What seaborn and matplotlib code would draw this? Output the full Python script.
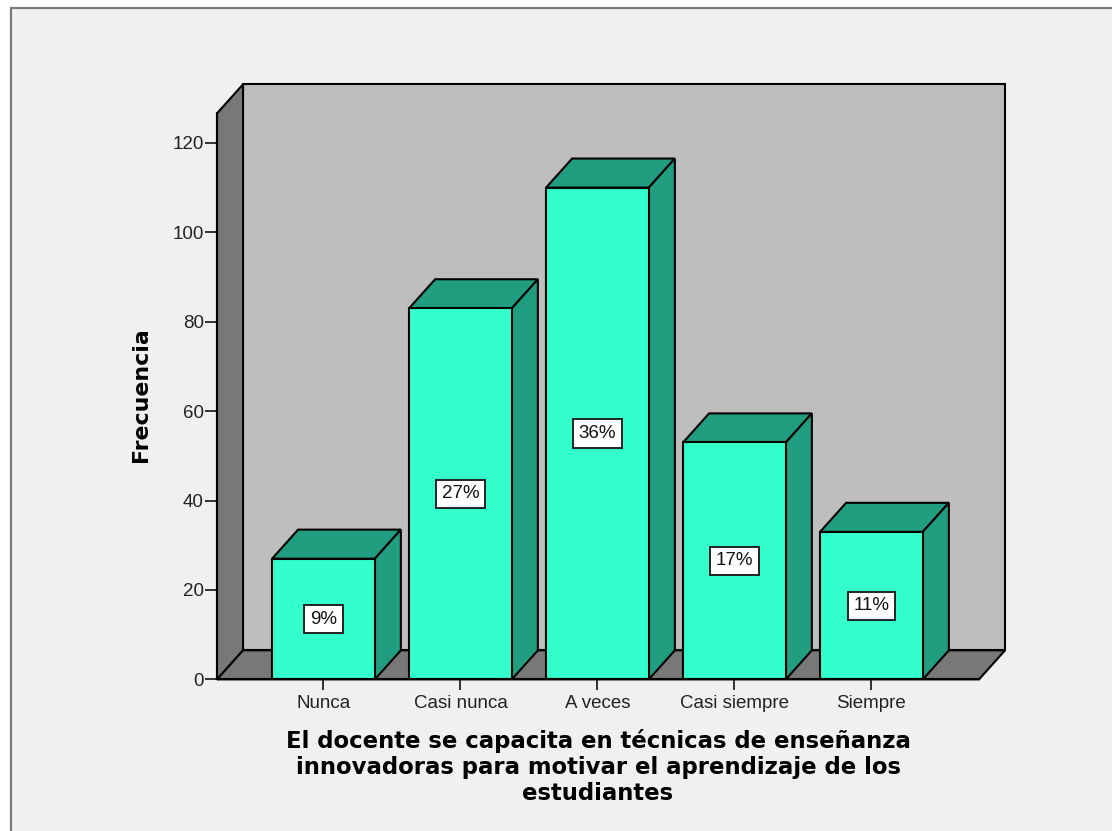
import matplotlib
matplotlib.use("Agg")
import matplotlib.pyplot as plt
from matplotlib.patches import Polygon, Rectangle
import pandas as pd
import seaborn as sns

categories = ["Nunca", "Casi nunca", "A veces", "Casi siempre", "Siempre"]
frequencies = [27, 83, 110, 53, 33]
percent_labels = ["9%", "27%", "36%", "17%", "11%"]
y_ticks = [0, 20, 40, 60, 80, 100, 120]

x_label = ("El docente se capacita en técnicas de enseñanza\n"
           "innovadoras para motivar el aprendizaje de los\n"
           "estudiantes")

BAR_FRONT = "#33FFCC"
BAR_SHADE = "#209E7F"
WALL = "#BEBEBE"
FLOOR = "#787878"
PANEL = "#F0F0F0"
FRAME = "#7A7A7A"
LW = 1.5

# Oblique projection offset, in data units
DX, DY = 0.19, 6.5
BAR_WIDTH = 0.75
XMIN, XMAX = -0.777, 4.785
YMAX = 126.6

sns.set_theme(style="white")
plt.rcParams["font.family"] = ["Liberation Sans", "DejaVu Sans"]

fig = plt.figure(figsize=(11.12, 8.31), dpi=100, facecolor="white")
fig.add_artist(Rectangle((11 / 1112, -0.01), 1.1, (823 / 831) + 0.01,
                         transform=fig.transFigure, facecolor=PANEL,
                         edgecolor=FRAME, linewidth=1.6, zorder=-1))
ax = fig.add_axes([217 / 1112, 151.6 / 831, 762 / 1112, 566 / 831])
ax.patch.set_visible(False)


def face(points, color, z):
    ax.add_patch(Polygon(points, closed=True, facecolor=color, edgecolor="black",
                         linewidth=LW, joinstyle="miter", zorder=z, clip_on=False))


# Chart box: back wall, left wall and floor
face([(XMIN + DX, DY), (XMAX + DX, DY), (XMAX + DX, YMAX + DY), (XMIN + DX, YMAX + DY)], WALL, 0.2)
face([(XMIN, 0), (XMIN + DX, DY), (XMIN + DX, YMAX + DY), (XMIN, YMAX)], FLOOR, 0.3)
face([(XMIN, 0), (XMAX, 0), (XMAX + DX, DY), (XMIN + DX, DY)], FLOOR, 0.3)

table = pd.DataFrame({"categoria": categories, "frecuencia": frequencies})
sns.barplot(data=table, x="categoria", y="frecuencia", order=categories,
            color=BAR_FRONT, saturation=1, width=BAR_WIDTH,
            edgecolor="black", linewidth=LW, ax=ax, zorder=2)

# Top and side faces of every bar, plus its percentage tag
half = BAR_WIDTH / 2
for i, (value, tag) in enumerate(zip(frequencies, percent_labels)):
    left, right = i - half, i + half
    face([(left, value), (right, value), (right + DX, value + DY), (left + DX, value + DY)], BAR_SHADE, 1.5)
    face([(right, 0), (right + DX, DY), (right + DX, value + DY), (right, value)], BAR_SHADE, 1.5)
    ax.text(i, value / 2, tag, ha="center", va="center", fontsize=13.5, color="#111111", zorder=4,
            bbox=dict(boxstyle="square,pad=0.3", facecolor="white", edgecolor="#222222", linewidth=1.4))

ax.set_xlim(XMIN, XMAX)
ax.set_ylim(0, YMAX)
ax.set_yticks(y_ticks)
ax.set_xticks(range(len(categories)), categories)

for side in ("top", "right"):
    ax.spines[side].set_visible(False)
for side in ("left", "bottom"):
    ax.spines[side].set_linewidth(LW)
    ax.spines[side].set_color("black")
    ax.spines[side].set_zorder(3)

ax.tick_params(axis="y", left=True, length=9, width=1.3, color="#222222",
               labelsize=13.5, labelcolor="#222222", pad=0.5)
ax.tick_params(axis="x", bottom=True, length=8, width=1.3, color="#222222",
               labelsize=13.5, labelcolor="#222222", pad=3.5)

ax.set_ylabel("Frecuencia", fontsize=15.8, fontweight="bold", color="black", family="DejaVu Sans")
ax.yaxis.set_label_coords((151 - 217) / 762, 0.5027)
ax.set_xlabel(x_label, fontsize=16.4, fontweight="bold", color="black", family="DejaVu Sans", linespacing=1.16)
ax.xaxis.set_label_coords(0.5, -(729.5 - 680) / 566)
ax.xaxis.label.set_va("top")

fig.savefig("out.png", dpi=100, facecolor=fig.get_facecolor())
